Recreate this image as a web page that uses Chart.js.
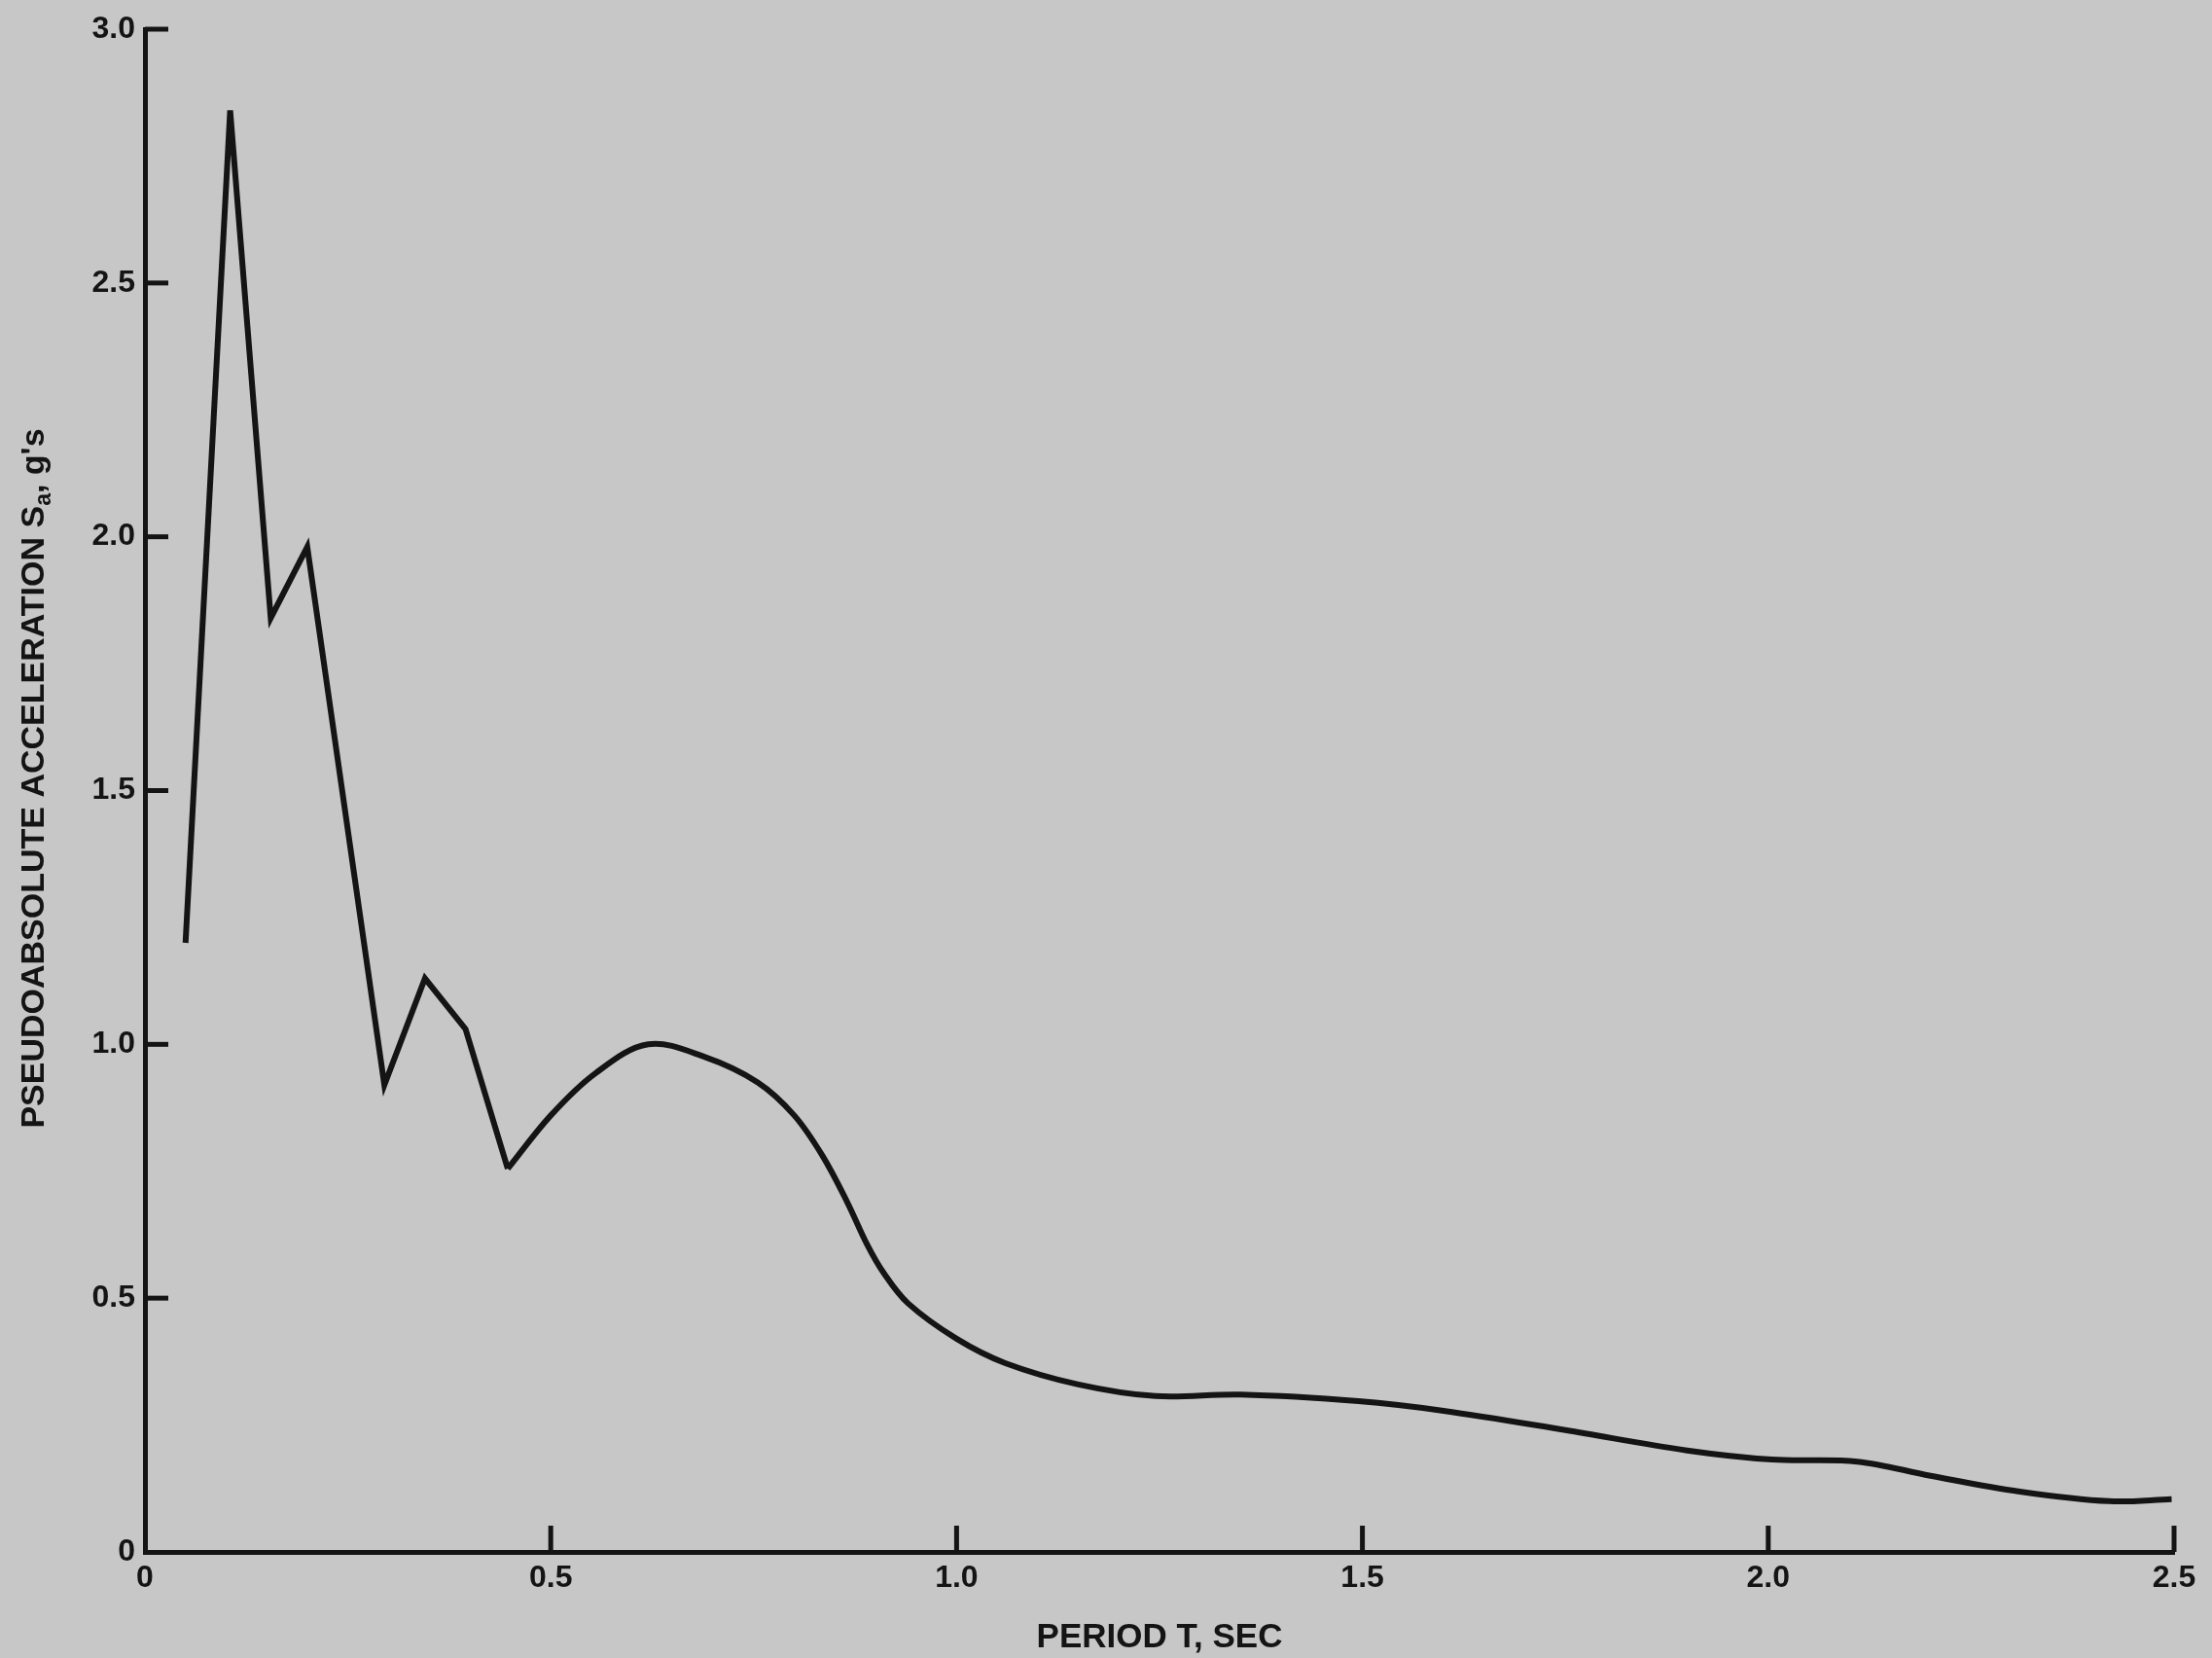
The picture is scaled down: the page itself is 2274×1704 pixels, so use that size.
<!DOCTYPE html>
<html>
<head>
<meta charset="utf-8">
<title>Pseudoabsolute acceleration spectrum</title>
<script src="https://cdn.jsdelivr.net/npm/chart.js@4.4.1/dist/chart.umd.min.js"></script>
<style>
  html, body { margin: 0; padding: 0; background: #c6c7c6; }
  #chart { display: block; }
</style>
</head>
<body>
<canvas id="chart" width="2274" height="1704"></canvas>
<script>
// Short periods: straight segments between the computed points
const periodJagged = [0.05, 0.105, 0.155, 0.2, 0.295, 0.345, 0.395, 0.447];
const accelJagged = [1.20, 2.84, 1.84, 1.98, 0.92, 1.13, 1.03, 0.755];

// Longer periods: the smooth part of the spectrum
const periodSmooth = [0.447, 0.50, 0.555, 0.62, 0.69, 0.755, 0.80, 0.835, 0.865, 0.89, 0.91, 0.94,
    1.0, 1.06, 1.15, 1.245, 1.35, 1.495, 1.6, 1.75, 1.9, 2.005, 2.11, 2.2, 2.31, 2.42, 2.497];
const accelSmooth = [0.755, 0.86, 0.943, 1.0, 0.975, 0.925, 0.86, 0.78, 0.69, 0.605, 0.55, 0.49,
    0.42, 0.372, 0.33, 0.307, 0.31, 0.297, 0.278, 0.24, 0.2, 0.182, 0.178, 0.15, 0.119, 0.1, 0.104];

// Axis ticks
const xTickValues = [0, 0.5, 1.0, 1.5, 2.0, 2.5];
const yTickValues = [0, 0.5, 1.0, 1.5, 2.0, 2.5, 3.0];

// Texts
const X_TITLE = 'PERIOD T, SEC';
const Y_TITLE_MAIN = 'PSEUDOABSOLUTE ACCELERATION S';
const Y_TITLE_SUB = 'a';
const Y_TITLE_END = ", g's";

const INK = '#141414';
const FONT_FAMILY = '"Liberation Sans", Arial, Helvetica, sans-serif';

function toPoints(xs, ys) {
    return xs.map((x, i) => ({ x: x, y: ys[i] }));
}

function tickLabel(value) {
    return value === 0 ? '0' : value.toFixed(1);
}

// Tick marks pointing into the plot, plus the y title with its subscript
const axisExtras = {
    id: 'axisExtras',
    afterDraw(chart) {
        const { ctx, chartArea, scales } = chart;
        ctx.save();
        ctx.strokeStyle = INK;
        ctx.lineWidth = 5;
        ctx.lineCap = 'butt';

        scales.x.ticks.forEach(t => {
            if (t.value === 0) return;
            const px = scales.x.getPixelForValue(t.value);
            ctx.beginPath();
            ctx.moveTo(px, chartArea.bottom);
            ctx.lineTo(px, chartArea.bottom - 27);
            ctx.stroke();
        });

        scales.y.ticks.forEach(t => {
            if (t.value === 0) return;
            const py = scales.y.getPixelForValue(t.value);
            ctx.beginPath();
            ctx.moveTo(chartArea.left, py);
            ctx.lineTo(chartArea.left + 24, py);
            ctx.stroke();
        });

        // y title, rotated
        const mainFont = 'bold 34px ' + FONT_FAMILY;
        const subFont = 'bold 23px ' + FONT_FAMILY;
        ctx.font = mainFont;
        const wMain = ctx.measureText(Y_TITLE_MAIN).width;
        const wEnd = ctx.measureText(Y_TITLE_END).width;
        ctx.font = subFont;
        const wSub = ctx.measureText(Y_TITLE_SUB).width;
        const total = wMain + wSub + wEnd;

        ctx.translate(36, 800);
        ctx.rotate(-Math.PI / 2);
        ctx.fillStyle = INK;
        ctx.textBaseline = 'middle';
        ctx.textAlign = 'left';
        let x = -total / 2;
        ctx.font = mainFont;
        ctx.fillText(Y_TITLE_MAIN, x, 0);
        x += wMain;
        ctx.font = subFont;
        ctx.fillText(Y_TITLE_SUB, x, 10);
        x += wSub;
        ctx.font = mainFont;
        ctx.fillText(Y_TITLE_END, x, 0);
        ctx.restore();
    }
};

const ctx = document.getElementById('chart').getContext('2d');
const spectrumChart = new Chart(ctx, {
    type: 'line',
    data: {
        datasets: [
            {
                label: 'jagged',
                data: toPoints(periodJagged, accelJagged),
                borderColor: INK,
                borderWidth: 6,
                pointRadius: 0,
                tension: 0
            },
            {
                label: 'smooth',
                data: toPoints(periodSmooth, accelSmooth),
                borderColor: INK,
                borderWidth: 6,
                pointRadius: 0,
                tension: 0.35
            }
        ]
    },
    options: {
        responsive: false,
        animation: false,
        events: [],
        layout: {
            padding: { top: 30, right: 39, left: 0, bottom: 0 }
        },
        scales: {
            x: {
                type: 'linear',
                min: 0,
                max: 2.5,
                afterBuildTicks: scale => {
                    scale.ticks = xTickValues.map(v => ({ value: v }));
                },
                afterFit: scale => {
                    scale.height = 109;
                },
                grid: { display: false, drawTicks: false, tickLength: 0 },
                border: { display: true, color: INK, width: 5 },
                ticks: {
                    color: INK,
                    padding: 8,
                    maxRotation: 0,
                    autoSkip: false,
                    font: { family: FONT_FAMILY, size: 32, weight: 'bold' },
                    callback: tickLabel
                },
                title: {
                    display: true,
                    text: X_TITLE,
                    color: INK,
                    padding: 0,
                    font: { family: FONT_FAMILY, size: 35, weight: 'bold' }
                }
            },
            y: {
                type: 'linear',
                min: 0,
                max: 3.0,
                afterBuildTicks: scale => {
                    scale.ticks = yTickValues.map(v => ({ value: v }));
                },
                afterFit: scale => {
                    scale.width = 149;
                },
                grid: { display: false, drawTicks: false, tickLength: 0 },
                border: { display: true, color: INK, width: 5 },
                ticks: {
                    color: INK,
                    padding: 10,
                    autoSkip: false,
                    font: { family: FONT_FAMILY, size: 32, weight: 'bold' },
                    callback: tickLabel
                }
            }
        },
        plugins: {
            legend: { display: false },
            tooltip: { enabled: false }
        }
    },
    plugins: [axisExtras]
});
</script>
</body>
</html>
